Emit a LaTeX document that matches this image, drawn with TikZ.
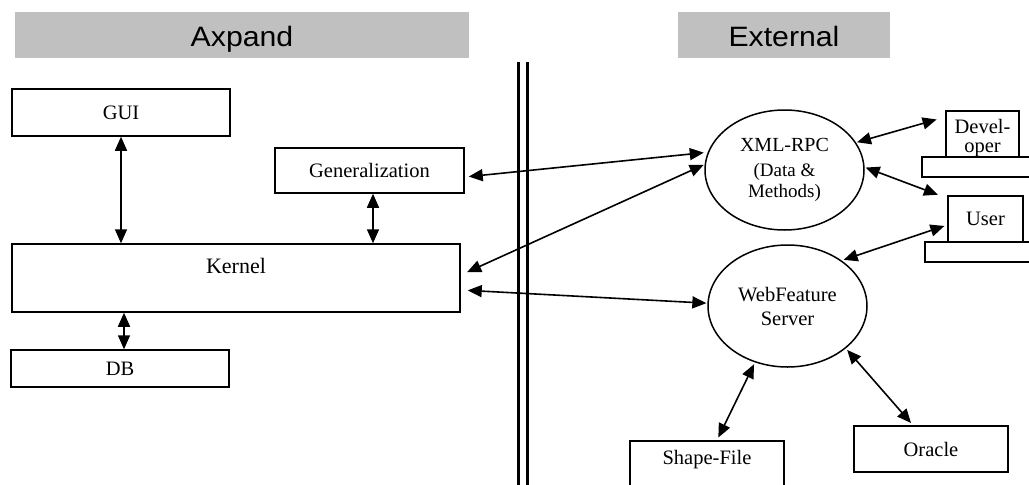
\documentclass[tikz,border=0pt]{standalone}
\usepackage{fontspec}
\setmainfont{Liberation Serif}
\newfontfamily\hdrfont{Liberation Sans}
\usetikzlibrary{arrows.meta,shapes.geometric}
\definecolor{hdrgray}{RGB}{192,192,192}
\begin{document}
\begin{tikzpicture}[x=1pt,y=-1pt,
  txt/.style={font=\fontsize{20.5}{22}\selectfont},
  box/.style={draw, line width=1.5pt, inner sep=0pt, fill=white, txt},
  hdr/.style={fill=hdrgray, inner sep=0pt, minimum height=46pt, text height=28pt, text depth=6pt,
              font=\hdrfont\fontsize{28}{30}\selectfont},
  oval/.style={draw, ellipse, line width=1.5pt, inner sep=0pt, align=center},
  sepline/.style={line width=3pt},
  biarrow/.style={line width=1.6pt, {Triangle[length=14pt,width=12pt]}-{Triangle[length=14pt,width=12pt]}},
]
\useasboundingbox (0,0) rectangle (1029,485);
\clip (0,0) rectangle (1029,485);

% headers
\node[hdr, minimum width=454pt] (hax) at (242,35) {\scalebox{1.08}[1]{Axpand}};
\node[hdr, minimum width=212pt] (hex) at (784,35) {\scalebox{1.08}[1]{External}};

% separator
\draw[sepline] (518,62) -- (518,490);
\draw[sepline] (527,62) -- (527,490);

% left side
\node[box, minimum width=218pt, minimum height=47pt] (gui) at (121,112.5) {GUI};
\node[box, minimum width=189pt, minimum height=45pt] (gen) at (369.5,170.5) {Generalization};
\node[box, minimum width=448pt, minimum height=68pt,
      label={[font=\fontsize{22}{24}\selectfont, anchor=center, yshift=-23pt]north:Kernel}] (kernel) at (236,278) {};
\node[box, minimum width=218pt, minimum height=37pt] (db) at (120,368.5) {DB};

% right side
\node[oval, minimum width=159pt, minimum height=120pt,
      font=\fontsize{20}{25}\selectfont] (xml) at (784.5,170)
      {XML-RPC\\{\fontsize{19}{20}\selectfont (Data \&}\\[-4pt]{\fontsize{19}{20}\selectfont Methods)}};
\node[oval, minimum width=159pt, minimum height=122pt,
      font=\fontsize{20.5}{24}\selectfont] (wfs) at (787.5,306) {WebFeature\\Server};

\node[box, minimum width=118pt, minimum height=20pt] (devbase) at (981,167) {};
\node[box, minimum width=73pt, minimum height=46pt,
      label={[txt, align=center, anchor=center, yshift=-4pt]center:Devel-\\[-3pt]oper}] (dev) at (982.5,134) {};
\node[box, minimum width=115pt, minimum height=20pt] (userbase) at (982.5,252) {};
\node[box, minimum width=75pt, minimum height=46pt] (user) at (985.5,219) {User};

\node[box, minimum width=154pt, minimum height=60pt,
      label={[txt, anchor=center, yshift=-19pt]north:Shape-File}] (shape) at (707,471) {};
\node[box, minimum width=154pt, minimum height=46pt] (oracle) at (931,449) {Oracle};

% connectors
\draw[biarrow] (gui.south) -- (gui.south |- kernel.north);
\draw[biarrow] ([xshift=3.5pt]gen.south) -- ([xshift=3.5pt]gen.south |- kernel.north);
\draw[biarrow] ([xshift=4pt]db.north) -- ([xshift=4pt]db.north |- kernel.south);

\draw[biarrow, shorten <=4pt, shorten >=4pt] ([yshift=-6.5pt]gen.east) -- (xml.167);
\draw[biarrow, shorten <=7pt, shorten >=1pt] ([yshift=3pt]kernel.east) -- (xml.176);
\draw[biarrow, shorten <=7pt, shorten >=1pt] ([yshift=-12pt]kernel.east) -- (wfs.178);

\draw[biarrow, shorten <=1pt, shorten >=9pt] (xml.21) -- ([yshift=17pt]dev.west);
\draw[biarrow, shorten <=1pt, shorten >=10pt] (xml.2) -- ([yshift=-3pt]user.north west);
\draw[biarrow, shorten <=2pt, shorten >=3pt] (wfs.40) -- ([yshift=-6pt]user.west);
\draw[biarrow, shorten <=2pt, shorten >=3pt] (wfs.240) -- ([xshift=10pt]shape.north);
\draw[biarrow, shorten <=2pt, shorten >=3pt] (wfs.324) -- ([xshift=-18pt]oracle.north);
\end{tikzpicture}
\end{document}
